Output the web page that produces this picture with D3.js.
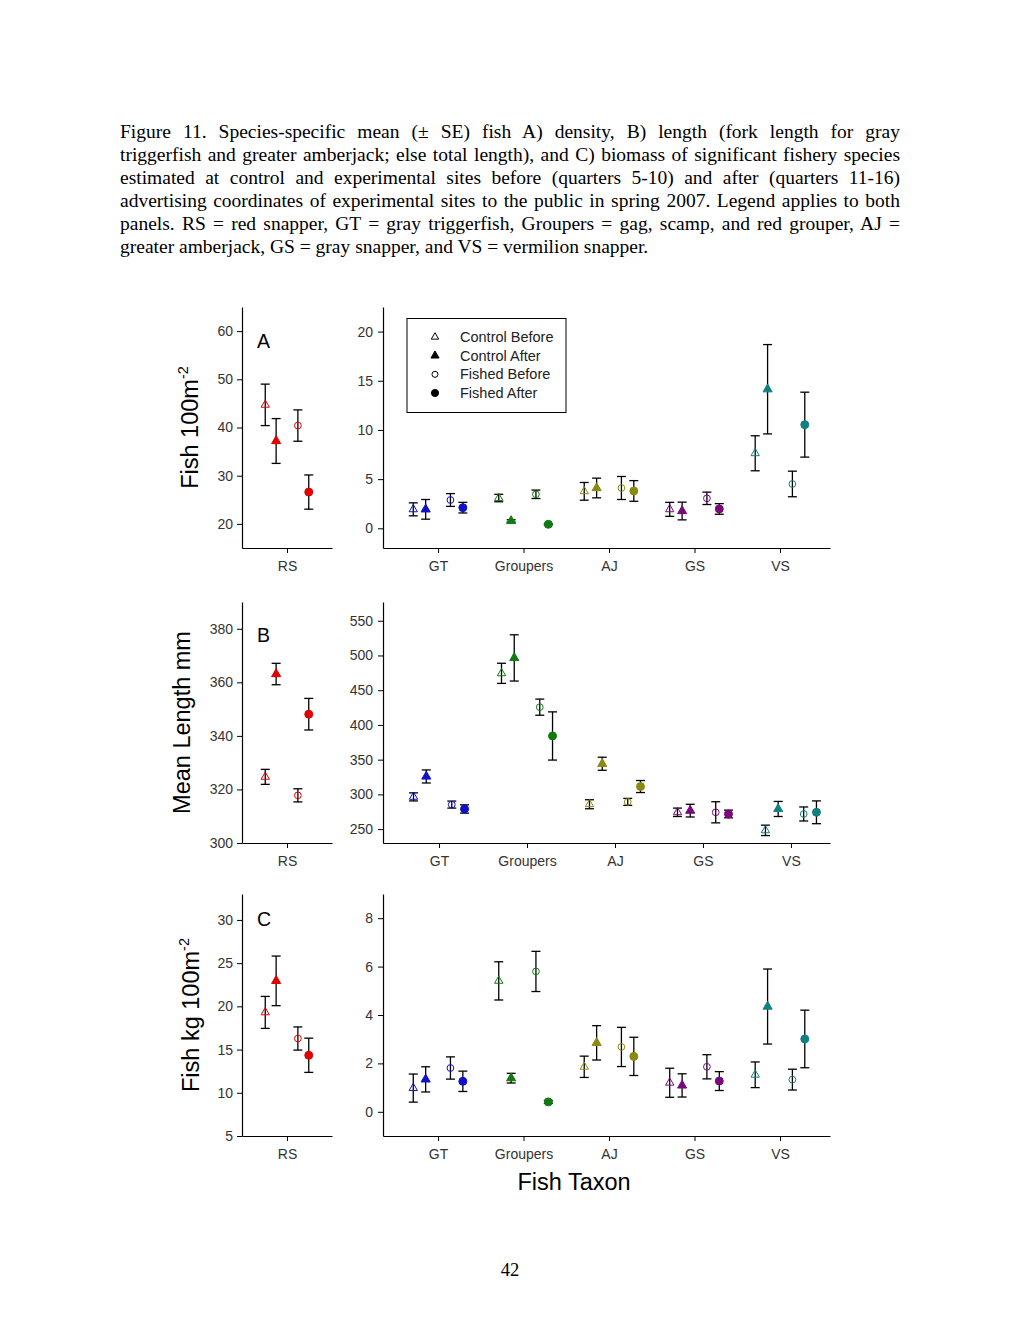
<!DOCTYPE html>
<html>
<head>
<meta charset="utf-8">
<script src="https://cdn.jsdelivr.net/npm/d3@7"></script>
<style>
  body { margin: 0; background: #fff; }
  svg { position: absolute; left: 0; top: 0; }
  #caption {
    position: absolute; left: 120px; top: 120px; width: 780px;
    font-family: "Liberation Serif", "Times New Roman", serif;
    font-size: 18.5px; line-height: 23px; color: #000;
  }
  #caption div { text-align: justify; text-align-last: justify; white-space: nowrap; }
  #caption div.last { text-align-last: left; }
  #measure {
    position: absolute; visibility: hidden; white-space: nowrap;
    font-family: "Liberation Serif", "Times New Roman", serif; font-size: 20px;
  }
</style>
</head>
<body>
<svg id="chart"></svg>
<div id="caption"></div>
<span id="measure"></span>
<script>
const captionLines = [
  "Figure 11. Species-specific mean (± SE) fish A) density, B) length (fork length for gray",
  "triggerfish and greater amberjack; else total length), and C) biomass of significant fishery species",
  "estimated at control and experimental sites before (quarters 5-10) and after (quarters 11-16)",
  "advertising coordinates of experimental sites to the public in spring 2007. Legend applies to both",
  "panels. RS = red snapper, GT = gray triggerfish, Groupers = gag, scamp, and red grouper, AJ =",
  "greater amberjack, GS = gray snapper, and VS = vermilion snapper."
];

const taxa = ["GT", "Groupers", "AJ", "GS", "VS"];
const groups = ["Control Before", "Control After", "Fished Before", "Fished After"];

// A) density (fish 100m-2)
const densityRS = [44.7, 37.2, 40.4, 26.6];
const densityRSse = [4.3, 4.65, 3.25, 3.55];
const densityMean = [
  [1.93, 1.93, 2.88, 2.1],
  [3.08, 0.75, 3.46, 0.41],
  [3.76, 4.1, 4.1, 3.8],
  [1.93, 1.76, 3.05, 1.97],
  [7.63, 14.14, 4.51, 10.54]
];
const densitySE = [
  [0.66, 1.0, 0.65, 0.54],
  [0.38, 0.12, 0.43, 0.06],
  [0.9, 1.0, 1.17, 1.05],
  [0.71, 0.9, 0.63, 0.54],
  [1.78, 4.54, 1.3, 3.3]
];

// B) mean length (mm)
const lengthRS = [324.7, 363.1, 317.8, 348.1];
const lengthRSse = [2.8, 4.0, 2.45, 5.9];
const lengthMean = [
  [296.4, 325.8, 285.3, 279],
  [474.3, 496.5, 425.6, 384.1],
  [285.8, 344.1, 289.2, 311.3],
  [274.2, 276.6, 274.2, 271.8],
  [248.2, 279, 271.8, 274.2]
];
const lengthSE = [
  [5.8, 9.4, 5.05, 6.0],
  [14.5, 33.3, 11.6, 34.7],
  [6.5, 9.4, 5.05, 8.65],
  [6.05, 9.15, 15.2, 5.55],
  [7.5, 10.85, 10.1, 16.4]
];

// C) biomass (fish kg 100m-2)
const biomassRS = [19.3, 22.95, 16.28, 14.34];
const biomassRSse = [1.85, 2.87, 1.34, 1.98];
const biomassMean = [
  [0.98, 1.34, 1.81, 1.26],
  [5.41, 1.39, 5.8, 0.41],
  [1.86, 2.85, 2.68, 2.29],
  [1.2, 1.09, 1.86, 1.27],
  [1.53, 4.35, 1.33, 3.01]
];
const biomassSE = [
  [0.58, 0.52, 0.46, 0.42],
  [0.79, 0.2, 0.83, 0.06],
  [0.44, 0.71, 0.81, 0.79],
  [0.6, 0.48, 0.5, 0.39],
  [0.53, 1.55, 0.43, 1.19]
];

const rsColor = "#e00000";
const taxonColors = ["#1010c8", "#127a12", "#8a8a10", "#7a0a7a", "#108080"];
const offsets = [-0.29, -0.145, 0.145, 0.29];

const font = "'Liberation Sans', Arial, sans-serif";

const svg = d3.select("#chart").attr("width", 1020).attr("height", 1320);

// caption: pick a font size so the widest line just fits the 780px block
const measure = document.getElementById("measure");
const widest = d3.max(captionLines, line => {
  measure.textContent = line;
  return measure.getBoundingClientRect().width;
});
const captionSize = Math.min(19.5, 20 * 778 / widest);

d3.select("#caption")
  .style("font-size", captionSize + "px")
  .selectAll("div")
  .data(captionLines)
  .enter()
  .append("div")
  .attr("class", (d, i) => i === captionLines.length - 1 ? "last" : null)
  .text(d => d);

const panels = [
  {
    letter: "A", letterY: 348, top: 307, bottom: 548,
    rsMean: densityRS, rsSE: densityRSse, mean: densityMean, se: densitySE,
    rsDomain: [15, 65], rsTicks: [20, 30, 40, 50, 60],
    domain: [-2, 22.5], ticks: [0, 5, 10, 15, 20],
    xDomain: [0.356, 5.585],
    title: "Fish 100m", sup: "-2", titleX: 198, legend: true
  },
  {
    letter: "B", letterY: 642, top: 602, bottom: 843,
    rsMean: lengthRS, rsSE: lengthRSse, mean: lengthMean, se: lengthSE,
    rsDomain: [300, 390], rsTicks: [300, 320, 340, 360, 380],
    domain: [230, 577], ticks: [250, 300, 350, 400, 450, 500, 550],
    xDomain: [0.363, 5.444],
    title: "Mean Length mm", sup: null, titleX: 190
  },
  {
    letter: "C", letterY: 926, top: 894, bottom: 1136,
    rsMean: biomassRS, rsSE: biomassRSse, mean: biomassMean, se: biomassSE,
    rsDomain: [5, 33], rsTicks: [5, 10, 15, 20, 25, 30],
    domain: [-1, 9], ticks: [0, 2, 4, 6, 8],
    xDomain: [0.356, 5.585],
    title: "Fish kg 100m", sup: "-2", titleX: 199
  }
];

function styleAxis(g) {
  g.select(".domain").attr("stroke", "#000").attr("stroke-width", 1.2);
  g.selectAll(".tick line").attr("stroke", "#000");
  g.selectAll(".tick text")
    .attr("fill", "#333")
    .style("font-family", font)
    .style("font-size", "14px");
}

const triangle = d3.symbol().type(d3.symbolTriangle);
const circle = d3.symbol().type(d3.symbolCircle);

function markerPath(j, scale = 1) {
  if (j === 0) return triangle.size(30 * scale)();
  if (j === 1) return triangle.size(36 * scale)();
  if (j === 2) return circle.size(36 * scale)();
  return circle.size(50 * scale)();
}

function drawPoints(g, x, y, pts) {
  // error bars first, open markers let the line show through
  const bars = g.selectAll(".err")
    .data(pts)
    .enter()
    .append("g")
    .attr("stroke", "#000")
    .attr("stroke-width", 1.3);

  bars.append("line")
    .attr("x1", d => x(d.x)).attr("x2", d => x(d.x))
    .attr("y1", d => y(d.m - d.se)).attr("y2", d => y(d.m + d.se));
  bars.append("line")
    .attr("x1", d => x(d.x) - 4.5).attr("x2", d => x(d.x) + 4.5)
    .attr("y1", d => y(d.m + d.se)).attr("y2", d => y(d.m + d.se));
  bars.append("line")
    .attr("x1", d => x(d.x) - 4.5).attr("x2", d => x(d.x) + 4.5)
    .attr("y1", d => y(d.m - d.se)).attr("y2", d => y(d.m - d.se));

  g.selectAll(".pt")
    .data(pts)
    .enter()
    .append("path")
    .attr("transform", d => `translate(${x(d.x)},${y(d.m)})`)
    .attr("d", d => markerPath(d.j))
    .attr("fill", d => (d.j % 2 === 1) ? d.color : "none")
    .attr("stroke", d => d.color)
    .attr("stroke-width", 1);
}

panels.forEach(p => {
  // Left subplot: red snapper
  const xL = d3.scaleLinear().domain([0.4, 1.6]).range([242, 332]);
  const yL = d3.scaleLinear().domain(p.rsDomain).range([p.bottom, p.top]);

  svg.append("g")
    .attr("transform", `translate(242,0)`)
    .call(d3.axisLeft(yL).tickValues(p.rsTicks).tickSize(5).tickPadding(4).tickSizeOuter(0))
    .call(styleAxis);

  svg.append("g")
    .attr("transform", `translate(0,${p.bottom})`)
    .call(d3.axisBottom(xL).tickValues([1]).tickFormat(() => "RS").tickSize(5).tickPadding(8).tickSizeOuter(0))
    .call(styleAxis);

  const rsPts = groups.map((gName, j) => ({
    x: 1 + offsets[j], m: p.rsMean[j], se: p.rsSE[j], j: j, color: rsColor
  }));
  drawPoints(svg.append("g"), xL, yL, rsPts);

  svg.append("text")
    .attr("x", 257)
    .attr("y", p.letterY)
    .style("font-family", font)
    .style("font-size", "19.5px")
    .text(p.letter);

  // Right subplot: other taxa
  const xR = d3.scaleLinear().domain(p.xDomain).range([383, 830]);
  const yR = d3.scaleLinear().domain(p.domain).range([p.bottom, p.top]);

  svg.append("g")
    .attr("transform", `translate(383,0)`)
    .call(d3.axisLeft(yR).tickValues(p.ticks).tickSize(5).tickPadding(5).tickSizeOuter(0))
    .call(styleAxis);

  svg.append("g")
    .attr("transform", `translate(0,${p.bottom})`)
    .call(d3.axisBottom(xR).tickValues(d3.range(1, taxa.length + 1)).tickFormat(i => taxa[i - 1]).tickSize(5).tickPadding(8).tickSizeOuter(0))
    .call(styleAxis);

  const pts = [];
  taxa.forEach((t, i) => {
    groups.forEach((gName, j) => {
      pts.push({ x: i + 1 + offsets[j], m: p.mean[i][j], se: p.se[i][j], j: j, color: taxonColors[i] });
    });
  });
  drawPoints(svg.append("g"), xR, yR, pts);

  // Y axis title
  const title = svg.append("text")
    .attr("transform", `translate(${p.titleX},${(p.top + p.bottom) / 2}) rotate(-90)`)
    .attr("text-anchor", "middle")
    .style("font-family", font)
    .style("font-size", "23.5px");
  title.append("tspan").text(p.title);
  if (p.sup) {
    title.append("tspan")
      .attr("dy", -10)
      .style("font-size", "14.5px")
      .text(p.sup);
  }

  // Legend
  if (p.legend) {
    const lg = svg.append("g");
    lg.append("rect")
      .attr("x", 407).attr("y", 318.5)
      .attr("width", 159).attr("height", 94)
      .attr("fill", "#fff")
      .attr("stroke", "#000")
      .attr("stroke-width", 1);
    const rowY = d3.scaleLinear().domain([0, 3]).range([337, 393]);
    const items = lg.selectAll(".legend-item")
      .data(groups)
      .enter()
      .append("g")
      .attr("transform", (d, j) => `translate(0,${rowY(j)})`);
    items.append("path")
      .attr("transform", "translate(435,0)")
      .attr("d", (d, j) => markerPath(j, 0.8))
      .attr("fill", (d, j) => j % 2 === 1 ? "#000" : "none")
      .attr("stroke", "#000")
      .attr("stroke-width", 1);
    items.append("text")
      .attr("x", 460)
      .attr("y", 5)
      .attr("fill", "#222")
      .style("font-family", font)
      .style("font-size", "14.5px")
      .text(d => d);
  }
});

svg.append("text")
  .attr("x", 574)
  .attr("y", 1190)
  .attr("text-anchor", "middle")
  .style("font-family", font)
  .style("font-size", "23.5px")
  .text("Fish Taxon");

svg.append("text")
  .attr("x", 510)
  .attr("y", 1276)
  .attr("text-anchor", "middle")
  .style("font-family", "'Liberation Serif', 'Times New Roman', serif")
  .style("font-size", "18.5px")
  .text("42");
</script>
</body>
</html>
